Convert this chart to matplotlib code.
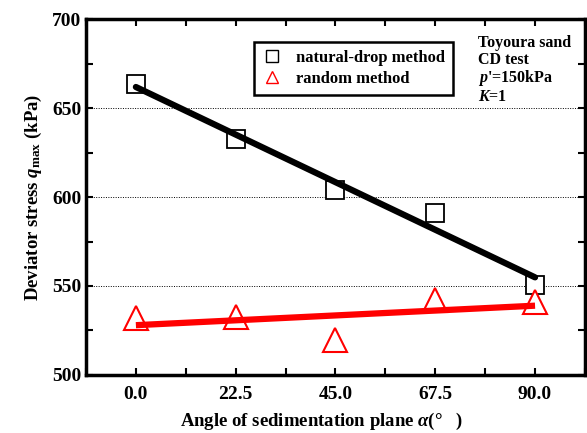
import numpy as np
import matplotlib
matplotlib.use('Agg')
import matplotlib.pyplot as plt
from matplotlib.ticker import MultipleLocator

# Data
angles = [0.0, 22.5, 45.0, 67.5, 90.0]
natural_drop = [663.5, 632.6, 604.0, 591.0, 550.6]
random_method = [532.0, 532.6, 519.7, 542.0, 541.0]
x_ticks = [0.0, 22.5, 45.0, 67.5, 90.0]
y_ticks = [500, 550, 600, 650, 700]

plt.rcParams['font.family'] = ['Liberation Serif', 'DejaVu Serif']
plt.rcParams['font.weight'] = 'bold'
plt.rcParams['axes.labelweight'] = 'bold'
plt.rcParams['mathtext.fontset'] = 'custom'
plt.rcParams['mathtext.rm'] = 'Liberation Serif:bold'
plt.rcParams['mathtext.it'] = 'Liberation Serif:bold:italic'

fig = plt.figure(figsize=(5.87, 4.33), dpi=100)
ax = fig.add_axes([0.1465, 0.134, 0.85, 0.822])

# linear fits
fit_n = np.polyfit(angles, natural_drop, 1)
fit_r = np.polyfit(angles, random_method, 1)
xs = np.array([angles[0], angles[-1]])

ax.plot(xs, np.polyval(fit_n, xs), color='black', lw=4.5, solid_capstyle='round', zorder=3)
ax.plot(xs, np.polyval(fit_r, xs), color='red', lw=4.5, solid_capstyle='butt', zorder=3)

ax.plot(angles, natural_drop, ls='none', marker='s', ms=13, mfc='white', mec='black',
        mew=1.3, zorder=2, label='natural-drop method')
ax.plot(angles, random_method, ls='none', marker='^', ms=17, mfc='white', mec='red',
        mew=1.5, zorder=2, label='random method')

ax.set_xlim(-11.25, 101.25)
ax.set_ylim(500, 700)
ax.set_xticks(x_ticks)
ax.set_xticklabels(['%.1f' % v for v in x_ticks])
ax.set_yticks(y_ticks)
ax.xaxis.set_minor_locator(MultipleLocator(11.25))
ax.yaxis.set_minor_locator(MultipleLocator(25))
ax.tick_params(which='both', direction='in', top=True, right=True, width=1.5, labelsize=14)
ax.tick_params(which='major', length=5)
ax.tick_params(which='minor', length=5)
ax.tick_params(axis='x', pad=8)
for sp in ax.spines.values():
    sp.set_linewidth(2.5)

for v in [550, 600, 650]:
    ax.axhline(v, color='black', lw=0.7, ls=(0, (1, 1.5)), zorder=1)

ax.set_xlabel(r'Angle of sedimentation plane $\alpha$(°   )', fontsize=13.5)
ax.xaxis.set_label_coords(0.473, -0.1)
ax.set_ylabel(r'Deviator stress $q_{\rm max}$ (kPa)', fontsize=13.5, labelpad=6)

# legend with small markers
h1, = ax.plot([], [], ls='none', marker='s', ms=8, mfc='white', mec='black', mew=1.0)
h2, = ax.plot([], [], ls='none', marker='^', ms=9, mfc='white', mec='red', mew=1.0)
leg = ax.legend([h1, h2], ['natural-drop method', 'random method'],
                loc='upper left', bbox_to_anchor=(0.32, 0.96), fancybox=False,
                framealpha=1, edgecolor='black', fontsize=12, handlelength=1.2,
                handletextpad=0.8, borderpad=0.5, labelspacing=0.3)
leg.get_frame().set_linewidth(1.8)

ax.text(0.785, 0.955, "Toyoura sand\nCD test\n$p$'=150kPa\n$K$=1", transform=ax.transAxes,
        fontsize=11.5, va='top', ha='left', linespacing=1.05)

fig.savefig('out.png', dpi=100)
